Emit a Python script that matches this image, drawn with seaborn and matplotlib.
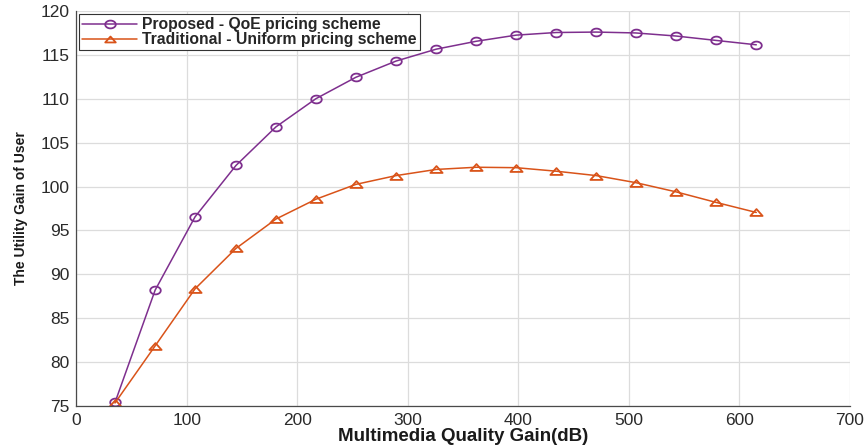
import matplotlib
matplotlib.use("Agg")
import matplotlib.pyplot as plt
from matplotlib import font_manager
from matplotlib.path import Path
import numpy as np
import seaborn as sns
import pandas as pd

# Multimedia quality gain (dB) sampled for both pricing schemes
quality_gain = [35.1, 71.4, 107.5, 144.5, 180.7, 216.7, 253.0, 289.4, 325.6,
                361.8, 398.0, 434.2, 470.4, 506.0, 542.5, 578.7, 615.2]
# Utility gain of the user under each scheme
qoe_utility = [75.4, 88.2, 96.55, 102.4, 106.8, 110.0, 112.45, 114.3, 115.65,
               116.55, 117.25, 117.55, 117.6, 117.5, 117.15, 116.65, 116.15]
uniform_utility = [75.35, 81.85, 88.35, 92.95, 96.3, 98.55, 100.25, 101.25, 101.95,
                   102.2, 102.15, 101.75, 101.25, 100.45, 99.4, 98.2, 97.05]
series_names = ["Proposed - QoE pricing scheme",
                "Traditional - Uniform pricing scheme"]
x_ticks = [0, 100, 200, 300, 400, 500, 600, 700]
y_ticks = [75, 80, 85, 90, 95, 100, 105, 110, 115, 120]

df = pd.concat([
    pd.DataFrame({"gain": quality_gain, "utility": qoe_utility, "scheme": series_names[0]}),
    pd.DataFrame({"gain": quality_gain, "utility": uniform_utility, "scheme": series_names[1]}),
], ignore_index=True)

# Slightly flattened marker shapes (wide ellipse and wide triangle)
theta = np.linspace(0, 2 * np.pi, 41)
ellipse_marker = Path(np.column_stack([np.cos(theta), 0.74 * np.sin(theta)]), closed=True)
triangle_marker = Path([(-1.0, -0.56), (1.0, -0.56), (0.0, 0.56), (-1.0, -0.56)], closed=True)

sns.set_theme(style="whitegrid")
plt.rcParams["font.family"] = ["Liberation Sans", "DejaVu Sans"]

available = {f.name for f in font_manager.fontManager.ttflist}
narrow = "Liberation Sans Narrow" if "Liberation Sans Narrow" in available else "Liberation Sans"

fig = plt.figure(figsize=(8.65, 4.47), dpi=100)
ax = fig.add_axes([0.0881, 0.0917, 0.8946, 0.8837])

palette = {series_names[0]: "#7E2F8E", series_names[1]: "#D95319"}
sns.lineplot(data=df, x="gain", y="utility", hue="scheme", style="scheme",
             palette=palette,
             markers={series_names[0]: ellipse_marker, series_names[1]: triangle_marker},
             dashes=False, linewidth=1.1, markersize=7.6, markerfacecolor="none",
             markeredgewidth=1.3, ax=ax, legend=True)
for line in ax.lines:
    line.set_markeredgecolor(line.get_color())
    line.set_markerfacecolor("none")
ax.lines[1].set_markersize(8.8)

ax.set_xlim(0, 700)
ax.set_ylim(75, 120)
ax.set_xticks(x_ticks)
ax.set_yticks(y_ticks)
ax.tick_params(axis="both", direction="in", length=4, width=0.8, color="#262626",
               labelsize=12.5, labelcolor="#2a2a2a", pad=5)
ax.grid(True, color="#dcdcdc", linewidth=0.9)
ax.set_facecolor("white")
for side in ["top", "right"]:
    ax.spines[side].set_visible(False)
for side in ["left", "bottom"]:
    ax.spines[side].set_color("#4a4a4a")
    ax.spines[side].set_linewidth(0.9)

ax.set_xlabel("Multimedia Quality Gain(dB)", fontsize=13.5, fontweight="bold",
              color="#1a1a1a", labelpad=0)
ax.set_ylabel("The Utility Gain of User", fontsize=10.0, fontweight="bold",
              family=[narrow, "DejaVu Sans"], color="#1a1a1a", labelpad=9)

handles, labels = ax.get_legend_handles_labels()
for h in handles:
    h.set_markerfacecolor("none")
    h.set_markeredgecolor(h.get_color())
leg = ax.legend(handles, labels, loc="upper left", bbox_to_anchor=(0.0, 1.0),
                frameon=True, fancybox=False, framealpha=1, edgecolor="#333333",
                prop={"weight": "bold", "size": 11.3}, borderpad=0.2,
                labelspacing=0.0, handlelength=3.5, handletextpad=0.3,
                borderaxespad=0.2)
leg.get_frame().set_linewidth(0.8)

fig.savefig("out.png", dpi=100, facecolor="white")
